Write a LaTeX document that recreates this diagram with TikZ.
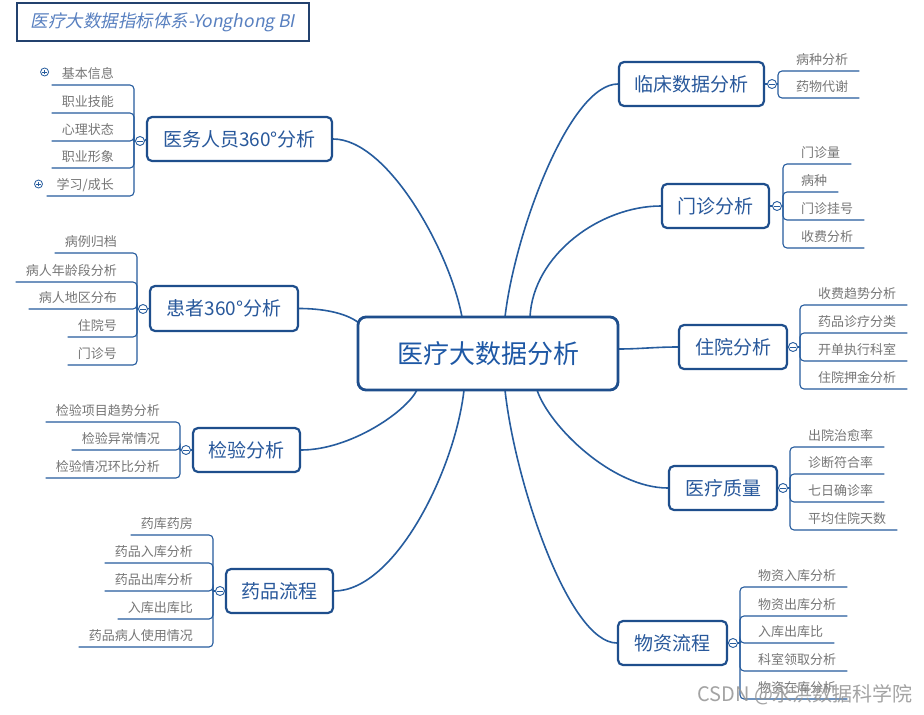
\documentclass[tikz,border=0pt]{standalone}
\usepackage{fontspec}
\setmainfont{Noto Sans CJK SC}
\newfontfamily\titlefont[FakeSlant=0.2]{Noto Sans CJK SC}
\usetikzlibrary{calc}
\pgfdeclarelayer{back}
\pgfdeclarelayer{bg}
\pgfsetlayers{back,bg,main}
\definecolor{boxline}{RGB}{30,78,140}
\definecolor{linkc}{RGB}{38,92,158}
\definecolor{boxtext}{RGB}{40,88,155}
\definecolor{ctext}{RGB}{30,88,165}
\definecolor{subtext}{RGB}{118,118,118}
\definecolor{titletext}{RGB}{88,128,192}
\definecolor{titleline}{RGB}{35,65,110}
\begin{document}
\begin{tikzpicture}[x=1pt,y=-1pt,
  mainbox/.style={draw=boxline, line width=2.2pt, rounded corners=5pt, fill=white, text=boxtext,
    font=\fontsize{19}{22}\selectfont, inner sep=0pt, minimum height=44pt},
  centerbox/.style={draw=boxline, line width=2.8pt, rounded corners=8pt, fill=white, text=ctext,
    font=\fontsize{26}{30}\selectfont, inner sep=0pt, minimum width=260pt, minimum height=73pt},
  titlebox/.style={draw=titleline, line width=1.2pt, fill=white, text=titletext,
    font=\titlefont\fontsize{17.5}{20}\selectfont, inner sep=0pt, minimum width=292pt, minimum height=38pt},
  knob/.style={circle, draw=linkc, line width=0.9pt, fill=white, minimum size=9pt, inner sep=0pt,
    path picture={\draw[linkc, line width=0.7pt] ([xshift=-2.6pt]path picture bounding box.center) -- ([xshift=2.6pt]path picture bounding box.center);}},
  plusknob/.style={circle, draw=linkc, line width=0.8pt, fill=white, minimum size=8pt, inner sep=0pt,
    path picture={\draw[linkc, line width=0.7pt] ([xshift=-2.4pt]path picture bounding box.center) -- ([xshift=2.4pt]path picture bounding box.center)
      ([yshift=-2.4pt]path picture bounding box.center) -- ([yshift=2.4pt]path picture bounding box.center);}},
  conn/.style={draw=linkc, line width=1.6pt},
  subline/.style={draw=linkc, line width=1.1pt, rounded corners=4pt},
  itembase/.style={inner ysep=3pt, text=subtext, font=\fontsize{13}{15}\selectfont, text height=10pt, text depth=3pt},
  litem/.style={itembase, anchor=south east, inner xsep=10pt},
  ritem/.style={itembase, anchor=south west, inner xsep=11pt},
  wmark/.style={text=black!42, opacity=0.85, font=\fontsize{20}{24}\selectfont, inner sep=0pt}
]
\begin{pgfonlayer}{back}
\fill[white] (0,0) rectangle (924,715);
\end{pgfonlayer}
\useasboundingbox (0,0) rectangle (924,715);

% title
\node[titlebox] (title) at (163,22) {医疗大数据指标体系-Yonghong BI};

% center
\node[centerbox] (c) at (488,353.5) {医疗大数据分析};

% main branches
\node[mainbox, minimum width=185pt] (med)  at (239.5,139) {医务人员360°分析};
\node[mainbox, minimum width=148pt, minimum height=45pt] (pat)  at (224,308.5) {患者360°分析};
\node[mainbox, minimum width=107pt] (lab)  at (246.5,450) {检验分析};
\node[mainbox, minimum width=107pt] (drug) at (279.5,591) {药品流程};
\node[mainbox, minimum width=145pt] (clin) at (691.5,84) {临床数据分析};
\node[mainbox, minimum width=107pt] (outp) at (715.5,206) {门诊分析};
\node[mainbox, minimum width=108pt] (inp)  at (733,347) {住院分析};
\node[mainbox, minimum width=108pt] (qual) at (723,488) {医疗质量};
\node[mainbox, minimum width=109pt] (mat)  at (672.5,643) {物资流程};

% connector start points on the centre box
\coordinate (s1) at (462,317);
\coordinate (s2) at (359,323);
\coordinate (s3) at (417,390);
\coordinate (s4) at (464,390);
\coordinate (s5) at (505,317);
\coordinate (s6) at (530,317);
\coordinate (s7) at (618,349);
\coordinate (s8) at (537,390);
\coordinate (s9) at (505,390);

\begin{pgfonlayer}{bg}
\draw[conn] (s1) .. controls (450,252) and (388,139) .. (med.east);
\draw[conn] (s2) .. controls (345,312) and (320,308.5) .. (pat.east);
\draw[conn] (s3) .. controls (406,412) and (350,450) .. (lab.east);
\draw[conn] (s4) .. controls (455,470) and (395,591) .. (drug.east);
\draw[conn] (s5) .. controls (515,231) and (570,84) .. (clin.west);
\draw[conn] (s6) .. controls (533,255) and (600,206) .. (outp.west);
\draw[conn] (s7) .. controls (640,349) and (655,347) .. (inp.west);
\draw[conn] (s8) .. controls (549,426) and (612,488) .. (qual.west);
\draw[conn] (s9) .. controls (515,483) and (569,643) .. (mat.west);
\end{pgfonlayer}

% ---------- 医务人员360°分析 ----------
\node[knob] (mk) at (140,141) {};
\coordinate (mb) at (134,141);
\draw[subline] (mk.east) -- (med.west);
\draw[subline] (mk.west) -- (mb);
\foreach \t/\y [count=\i] in {基本信息/85, 职业技能/113, 心理状态/141, 职业形象/168, {学习/成长}/196}{
  \node[litem] (m\i) at (124,\y) {\t};
  \draw[subline] (mb) |- (m\i.south west);
}
\node[plusknob] (mp1) at ($(m1.south west)+(-7,-13)$) {};
\node[plusknob] (mp5) at ($(m5.south west)+(-8,-12)$) {};

% ---------- 患者360°分析 ----------
\node[knob] (pk) at (143,309) {};
\coordinate (pb) at (137,309);
\draw[subline] (pk.east) -- (pat.west);
\draw[subline] (pk.west) -- (pb);
\foreach \t/\y [count=\i] in {病例归档/253, 病人年龄段分析/282, 病人地区分布/309, 住院号/337, 门诊号/365}{
  \node[litem] (p\i) at (127,\y) {\t};
  \draw[subline] (pb) |- (p\i.south west);
}

% ---------- 检验分析 ----------
\node[knob] (lk) at (186,450) {};
\coordinate (lb) at (180,450);
\draw[subline] (lk.east) -- (lab.west);
\draw[subline] (lk.west) -- (lb);
\foreach \t/\y [count=\i] in {检验项目趋势分析/422, 检验异常情况/450, 检验情况环比分析/478}{
  \node[litem] (l\i) at (170,\y) {\t};
  \draw[subline] (lb) |- (l\i.south west);
}

% ---------- 药品流程 ----------
\node[knob] (dk) at (220,591) {};
\coordinate (db) at (213,591);
\draw[subline] (dk.east) -- (drug.west);
\draw[subline] (dk.west) -- (db);
\foreach \t/\y [count=\i] in {药库药房/535, 药品入库分析/563, 药品出库分析/591, 入库出库比/619, 药品病人使用情况/647}{
  \node[litem] (d\i) at (203,\y) {\t};
  \draw[subline] (db) |- (d\i.south west);
}

% ---------- 临床数据分析 ----------
\node[knob] (ck) at (772,84) {};
\coordinate (cb) at (778,84);
\draw[subline] (ck.west) -- (clin.east);
\draw[subline] (ck.east) -- (cb);
\foreach \t/\y [count=\i] in {病种分析/71, 药物代谢/98}{
  \node[ritem] (c\i) at (785,\y) {\t};
  \draw[subline] (cb) |- (c\i.south east);
}

% ---------- 门诊分析 ----------
\node[knob] (ok) at (777,206) {};
\coordinate (ob) at (783,206);
\draw[subline] (ok.west) -- (outp.east);
\draw[subline] (ok.east) -- (ob);
\foreach \t/\y [count=\i] in {门诊量/164, 病种/192, 门诊挂号/220, 收费分析/248}{
  \node[ritem] (o\i) at (790,\y) {\t};
  \draw[subline] (ob) |- (o\i.south east);
}

% ---------- 住院分析 ----------
\node[knob] (ik) at (793,347) {};
\coordinate (ib) at (800,347);
\draw[subline] (ik.west) -- (inp.east);
\draw[subline] (ik.east) -- (ib);
\foreach \t/\y [count=\i] in {收费趋势分析/305, 药品诊疗分类/333, 开单执行科室/361, 住院押金分析/389}{
  \node[ritem] (i\i) at (807,\y) {\t};
  \draw[subline] (ib) |- (i\i.south east);
}

% ---------- 医疗质量 ----------
\node[knob] (qk) at (783,488) {};
\coordinate (qb) at (790,488);
\draw[subline] (qk.west) -- (qual.east);
\draw[subline] (qk.east) -- (qb);
\foreach \t/\y [count=\i] in {出院治愈率/447, 诊断符合率/474, 七日确诊率/502, 平均住院天数/530}{
  \node[ritem] (q\i) at (797,\y) {\t};
  \draw[subline] (qb) |- (q\i.south east);
}

% ---------- 物资流程 ----------
\node[knob] (wk) at (733,643) {};
\coordinate (wb) at (740,643);
\draw[subline] (wk.west) -- (mat.east);
\draw[subline] (wk.east) -- (wb);
\foreach \t/\y [count=\i] in {物资入库分析/587, 物资出库分析/616, 入库出库比/643, 科室领取分析/671, 物资在库分析/699}{
  \node[ritem] (w\i) at (747,\y) {\t};
  \draw[subline] (wb) |- (w\i.south east);
}

% watermark
\node[wmark, anchor=west] (wm) at (697,695) {CSDN @永洪数据科学院};
\end{tikzpicture}
\end{document}
